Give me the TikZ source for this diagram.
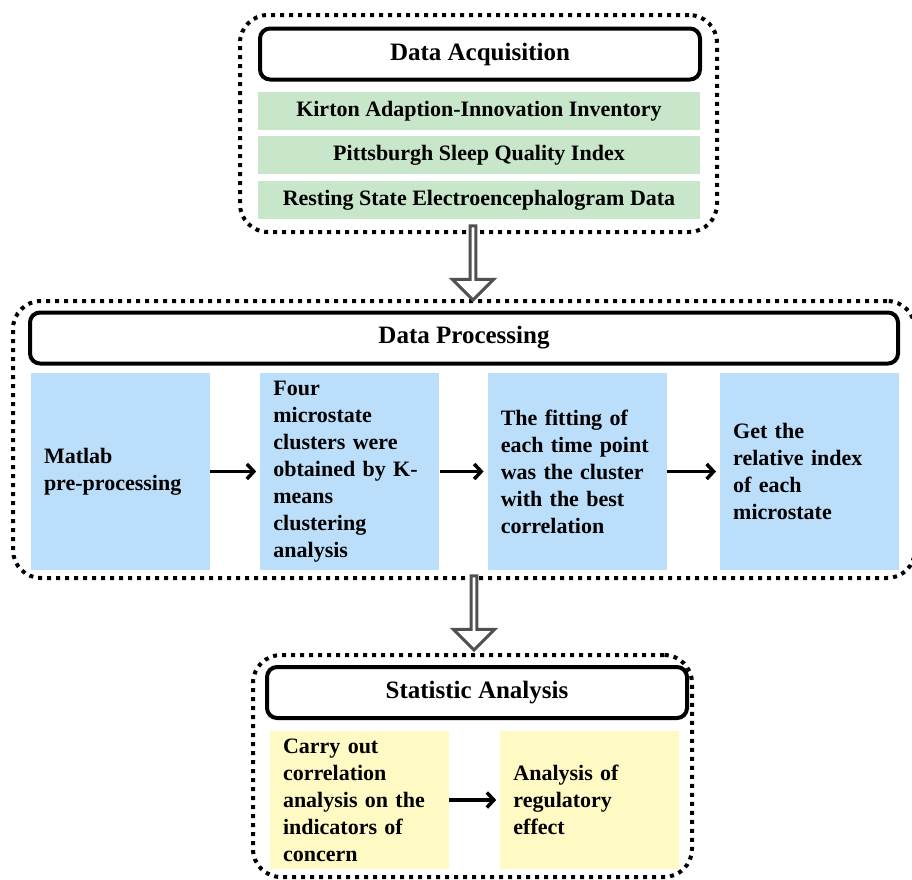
\documentclass[tikz,border=0pt]{standalone}
\usepackage{fontspec}
\setmainfont{Liberation Serif}
\usetikzlibrary{shapes.arrows}
\usetikzlibrary{arrows.meta, positioning}

\definecolor{acqgreen}{RGB}{200,230,201}
\definecolor{procblue}{RGB}{187,222,251}
\definecolor{statyellow}{RGB}{255,249,196}
\definecolor{arrowgray}{RGB}{80,80,80}

\begin{document}
\begin{tikzpicture}[x=1pt, y=-1pt, > = {Straight Barb[length=7pt, width=15pt]}]
    \tikzset{
      my group/.style={
        draw, line width=4pt, dash pattern=on 4pt off 5pt,
        rounded corners=28pt, inner sep=0pt
      },
      my title/.style={
        draw, line width=4pt, rounded corners=10pt, fill=white,
        minimum height=51pt, inner sep=0pt,
        font=\fontsize{25}{30}\selectfont\bfseries
      },
      my item/.style={
        fill=acqgreen, minimum width=442pt, minimum height=38pt, inner sep=0pt,
        font=\fontsize{22}{27}\selectfont\bfseries
      },
      my cell/.style={
        fill=#1, text width=153pt, inner xsep=13pt, inner ysep=0pt, align=left,
        font=\fontsize{22}{27}\selectfont\bfseries
      },
      my flow/.style={->, line width=3.5pt, shorten > = 4pt},
      my hollow arrow/.style={
        draw=arrowgray, fill=white, line width=3pt, single arrow,
        shape border rotate=270, minimum width=41pt, minimum height=74pt,
        single arrow head extend=9pt, inner sep=0pt, anchor=tip
      },
    }
    \useasboundingbox (0,0) rectangle (912,879);

    % Dotted groups
    \node (acq group) [my group, minimum width=477pt, minimum height=217pt] at (478.5,123.5) {};
    \node (proc group) [my group, minimum width=902pt, minimum height=277pt] at (464,439.5) {};
    \node (stat group) [my group, minimum width=439pt, minimum height=222pt] at (472.5,766) {};

    % Data acquisition
    \node (acq title) [my title, minimum width=440pt] at (480,54) {Data Acquisition};
    \node (kai) [my item] at (479,111) {Kirton Adaption-Innovation Inventory};
    \node (psqi) [my item, below=6pt of kai] {Pittsburgh Sleep Quality Index};
    \node (eeg) [my item, below=6pt of psqi] {Resting State Electroencephalogram Data};

    % Data processing
    \node (proc title) [my title, minimum width=868pt] at (464,338) {Data Processing};
    \node (pre) [my cell=procblue, minimum height=197pt] at (120.5,471.5)
      {Matlab\\pre-processing};
    \node (kmeans) [my cell=procblue, minimum height=197pt, right=50pt of pre]
      {Four\\microstate\\clusters were\\obtained by K-\\means\\clustering\\analysis};
    \node (fitting) [my cell=procblue, minimum height=197pt, right=48pt of kmeans]
      {The fitting of\\each time point\\was the cluster\\with the best\\correlation};
    \node (index) [my cell=procblue, minimum height=197pt, right=53pt of fitting]
      {Get the\\relative index\\of each\\microstate};

    % Statistic analysis
    \node (stat title) [my title, minimum width=420pt] at (477,692.5) {Statistic Analysis};
    \node (corr) [my cell=statyellow, minimum height=138pt] at (359.5,800)
      {Carry out\\correlation\\analysis on the\\indicators of\\concern};
    \node (reg) [my cell=statyellow, minimum height=138pt, right=51pt of corr]
      {Analysis of\\regulatory\\effect};

    % Arrows
    \foreach \from/\to in {pre/kmeans, kmeans/fitting, fitting/index, corr/reg}
      \draw[my flow] (\from) -- (\to);

    \node (down1) [my hollow arrow] at (473,302) {};
    \node (down2) [my hollow arrow] at (474,652) {};

\end{tikzpicture}
\end{document}
